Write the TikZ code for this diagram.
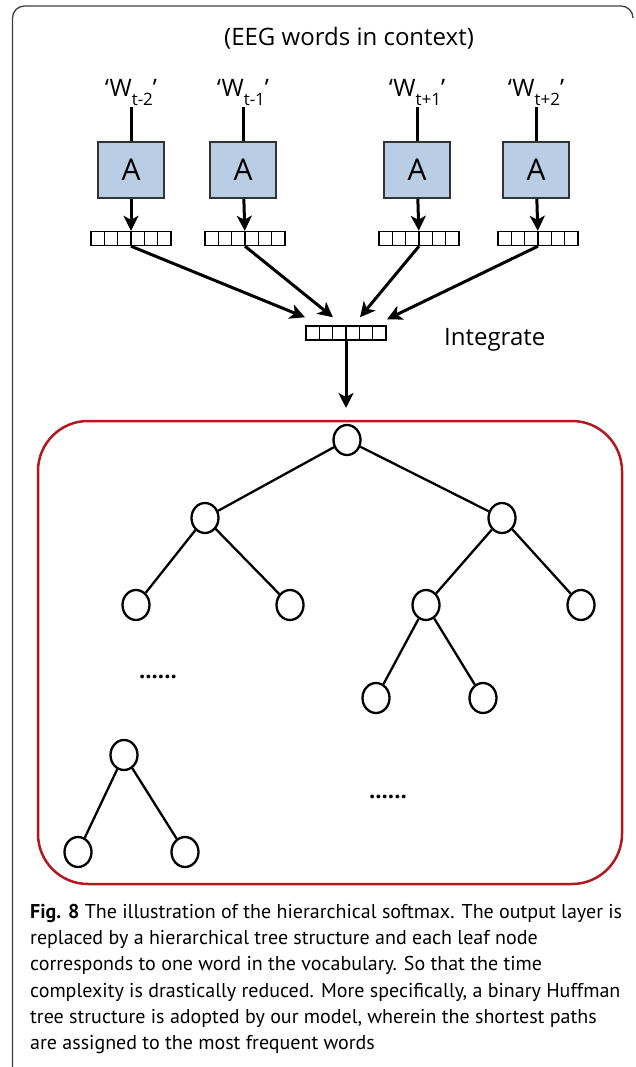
\documentclass[tikz,border=0pt]{standalone}
\usepackage{fontspec}
\setmainfont{Open Sans}
\newfontfamily\capfont{PT Sans}
\usetikzlibrary{arrows.meta,shapes.geometric,positioning}
\definecolor{boxblue}{RGB}{185,205,229}
\definecolor{treered}{RGB}{178,24,32}
\newcommand{\wlab}[1]{‘W\raisebox{-9pt}{\fontsize{17}{17}\selectfont #1}’}

\begin{document}
\begin{tikzpicture}[x=1pt, y=-1pt,
        txt/.style={font=\fontsize{24}{26}\selectfont, inner sep=1pt},
        abox/.style={draw=black!80, fill=boxblue, line width=1.5pt, minimum width=66pt, minimum height=56pt, inner sep=0pt, font=\fontsize{30}{32}\selectfont},
        vecbox/.style={draw, line width=1.4pt, minimum width=80pt, minimum height=14pt, inner sep=0pt,
            path picture={\foreach \k in {1,...,5} \draw [line width=1.2pt] ([xshift={\k*13.333pt}]path picture bounding box.south west) to ([xshift={\k*13.333pt}]path picture bounding box.north west);}},
        arr/.style={black, line width=3pt, -{Stealth[length=15pt, width=15pt, inset=4pt]}},
        tnode/.style={ellipse, draw, line width=2.3pt, minimum width=27pt, minimum height=30pt, inner sep=0pt},
        tedge/.style={line width=2.3pt},
        dots/.style={font=\fontsize{22}{22}\selectfont\bfseries, inner sep=0pt}]

        \useasboundingbox (0,0) rectangle (635,1067);
        \draw [black!75, line width=1.3pt, rounded corners=12pt] (12.5,1067) to (12.5,6) -- (633,6) -- (633,18);

        \node [txt, anchor=base] (title) at (349,46) {(EEG words in context)};

        \node [txt, anchor=base] (w1) at (131,97) {\wlab{t-2}};
        \node [txt, anchor=base] (w2) at (243,97) {\wlab{t-1}};
        \node [txt, anchor=base] (w3) at (417,97) {\wlab{t+1}};
        \node [txt, anchor=base] (w4) at (536,97) {\wlab{t+2}};

        \node [abox] (a1) at (131,170) {A};
        \node [abox] (a2) at (243,170) {A};
        \node [abox] (a3) at (417,170) {A};
        \node [abox] (a4) at (536,170) {A};

        \node [vecbox] (v1) at (131,238.5) {};
        \node [vecbox] (v2) at (245,238.5) {};
        \node [vecbox] (v3) at (419,238.5) {};
        \node [vecbox] (v4) at (538,238.5) {};

        \foreach \i in {1,...,4} {
            \draw [black, line width=3pt] (w\i.south) to (a\i.north);
            \draw [arr] (a\i) to (v\i);
        }

        \node [vecbox] (c) at (346,333) {};
        \node [txt, anchor=base west] (intg) at (443,345) {Integrate};

        \coordinate (t1) at ([xshift=-41pt, yshift=8pt]c.north);
        \coordinate (t2) at ([xshift=-13pt, yshift=8pt]c.north);
        \coordinate (t3) at ([xshift=14pt, yshift=8pt]c.north);
        \coordinate (t4) at ([xshift=41pt, yshift=6pt]c.north);
        \foreach \i in {1,...,4}
            \draw [arr] (v\i.south) to (t\i);

        \coordinate (out) at (346,408);
        \draw [arr] (c.south) to (out);

        \draw [treered, line width=2.5pt, rounded corners=50pt] (38,421) rectangle (622,884);

        \node [tnode] (root) at (347,440) {};
        \node [tnode] (l) at (205,518) {};
        \node [tnode] (r) at (502,518) {};
        \node [tnode] (ll) at (136,605) {};
        \node [tnode] (lr) at (290,605) {};
        \node [tnode] (rl) at (426,605) {};
        \node [tnode] (rr) at (581,605) {};
        \node [tnode] (rll) at (376,698) {};
        \node [tnode] (rlr) at (483,698) {};
        \node [tnode] (s) at (124,755) {};
        \node [tnode] (sl) at (78,852) {};
        \node [tnode] (sr) at (185,852) {};

        \foreach \p/\q in {root/l, root/r, l/ll, l/lr, r/rl, r/rr, rl/rll, rl/rlr, s/sl, s/sr}
            \draw [tedge] (\p) to (\q);

        \node [dots] (d1) at (158,677) {......};
        \node [dots] (d2) at (388,797) {......};

        \node [anchor=north west, align=left, inner sep=0pt, font=\capfont\fontsize{20}{26.2}\selectfont] (cap) at (30,904) {\textbf{Fig. 8} The illustration of the hierarchical softmax. The output layer is\\
            replaced by a hierarchical tree structure and each leaf node\\
            corresponds to one word in the vocabulary. So that the time\\
            complexity is drastically reduced. More specifically, a binary Huffman\\
            tree structure is adopted by our model, wherein the shortest paths\\
            are assigned to the most frequent words};
\end{tikzpicture}
\end{document}
